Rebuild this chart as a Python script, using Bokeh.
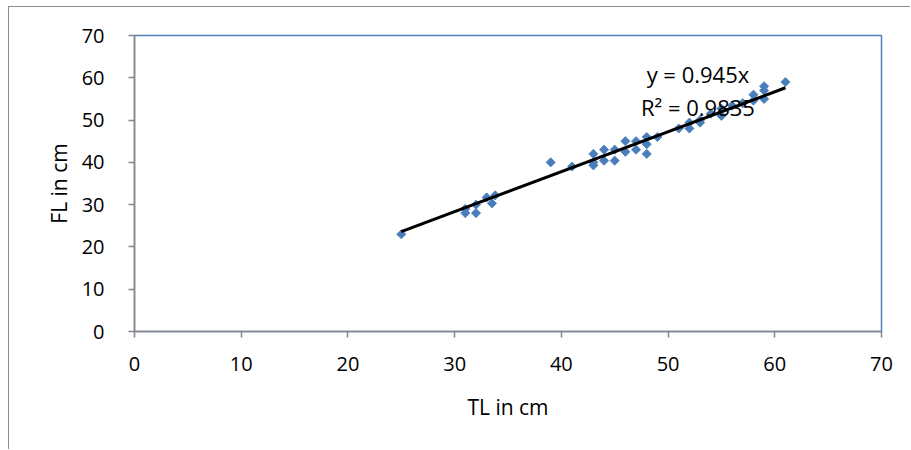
import numpy as np
from bokeh.plotting import figure
from bokeh.models import Range1d, FixedTicker, ColumnDataSource
from bokeh.core.properties import value
from bokeh.embed import file_html
from bokeh.resources import INLINE

# data
tl = [25, 31, 31, 32, 32, 33, 33.5, 33.8, 39, 41,
      43, 43, 43, 44, 44, 45, 45, 46, 46, 47, 47, 48, 48, 48, 49,
      51, 52, 52, 53, 53, 54, 55, 55, 56, 57, 58, 58, 59, 59, 59, 61]
fl = [23, 29, 28, 30, 28, 31.7, 30.3, 32.2, 40, 39,
      42, 40, 39.3, 43, 40.4, 43, 40.4, 45, 42.5, 45, 43, 46, 44.3, 42, 46,
      48, 49.4, 48, 50, 49.4, 51.5, 52.7, 51, 53.4, 54, 56, 54.6, 58, 57, 55, 59]
slope = 0.945
eq_text = ["y = 0.945x", "R² = 0.9835"]
ticks = [0, 10, 20, 30, 40, 50, 60, 70]

FONT = "Open Sans"
AXIS_GRAY = "#868686"

p = figure(width=902, height=443, output_backend="svg", toolbar_location=None,
           x_range=Range1d(0, 70), y_range=Range1d(0, 70),
           min_border_left=125, min_border_right=30,
           min_border_top=28, min_border_bottom=119)
p.styles = {"border-top": "1px solid #8c8c8c", "border-left": "1px solid #8c8c8c",
            "margin-top": "6px", "margin-left": "8px"}
p.outline_line_color = "#4F81BD"
p.outline_line_width = 1.5
p.xgrid.visible = False
p.ygrid.visible = False

for ax in (p.xaxis[0], p.yaxis[0]):
    ax.ticker = FixedTicker(ticks=ticks)
    ax.minor_tick_line_color = None
    ax.axis_line_color = AXIS_GRAY
    ax.axis_line_width = 1.5
    ax.major_tick_line_color = AXIS_GRAY
    ax.major_tick_line_width = 1.5
    ax.major_tick_in = 0
    ax.major_tick_out = 6
    ax.major_label_text_font = FONT
    ax.major_label_text_font_size = "20px"
    ax.major_label_text_color = "black"
    ax.axis_label_text_font = FONT
    ax.axis_label_text_font_size = "21px"
    ax.axis_label_text_font_style = "normal"
    ax.axis_label_text_color = "black"

p.xaxis.axis_label = "TL in cm"
p.yaxis.axis_label = "FL in cm"
p.xaxis.major_label_standoff = 19
p.yaxis.major_label_standoff = 24
p.xaxis.axis_label_standoff = 19
p.yaxis.axis_label_standoff = 6

src = ColumnDataSource(dict(x=tl, y=fl))
p.scatter("x", "y", source=src, marker="square", angle=np.pi / 4, size=6.5,
          fill_color="#4A7EBB", line_color="#4A7EBB", line_width=0.8)

x0, x1 = min(tl), max(tl)
p.line([x0, x1], [slope * x0, slope * x1], line_color="black", line_width=3)

p.text(x=[52.8, 52.8], y=[61.0, 53.2], text=eq_text, text_align="center",
       text_baseline="middle", text_font=value(FONT), text_font_size="22px",
       text_color="black")

open("out.html", "w").write(file_html(p, INLINE))
